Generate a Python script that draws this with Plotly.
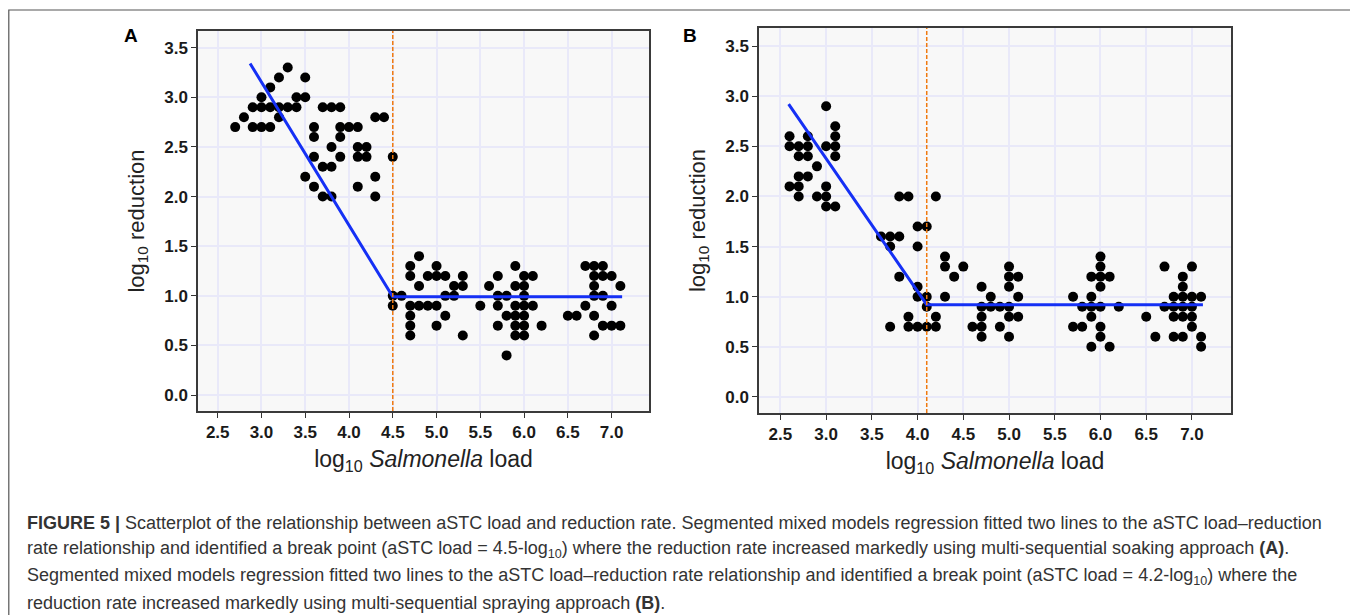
import plotly.graph_objects as go

# Panel A - multi-sequential soaking
a_load = [2.7, 2.8, 2.9, 2.9, 3.0, 3.0, 3.0, 3.1, 3.1, 3.1, 3.2, 3.2, 3.2,
          3.3, 3.3, 3.4, 3.4, 3.5, 3.5, 3.5, 3.6, 3.6, 3.6, 3.6, 3.7, 3.7, 3.7,
          3.8, 3.8, 3.8, 3.8, 3.9, 3.9, 3.9, 3.9, 4.0, 4.1, 4.1, 4.1, 4.1,
          4.2, 4.2, 4.3, 4.3, 4.3, 4.4, 4.5, 4.5, 4.5, 4.6,
          4.7, 4.7, 4.7, 4.7, 4.7, 4.7, 4.8, 4.8, 4.8, 4.9, 4.9,
          5.0, 5.0, 5.0, 5.0, 5.1, 5.1, 5.1, 5.2, 5.2, 5.3, 5.3, 5.3,
          5.5, 5.6, 5.7, 5.7, 5.7, 5.7, 5.8, 5.8, 5.8,
          5.9, 5.9, 5.9, 5.9, 5.9, 5.9, 6.0, 6.0, 6.0, 6.0, 6.0, 6.0, 6.0,
          6.1, 6.1, 6.2, 6.5, 6.6, 6.7, 6.7, 6.8, 6.8, 6.8, 6.8, 6.8, 6.8,
          6.9, 6.9, 6.9, 6.9, 7.0, 7.0, 7.0, 7.1, 7.1]
a_red = [2.7, 2.8, 2.9, 2.7, 3.0, 2.9, 2.7, 3.1, 2.9, 2.7, 3.2, 2.9, 2.8,
         3.3, 2.9, 3.0, 2.9, 3.2, 3.0, 2.2, 2.7, 2.6, 2.4, 2.1, 2.9, 2.3, 2.0,
         2.9, 2.5, 2.3, 2.0, 2.9, 2.7, 2.6, 2.4, 2.7, 2.7, 2.5, 2.4, 2.1,
         2.5, 2.4, 2.8, 2.2, 2.0, 2.8, 2.4, 1.0, 0.9, 1.0,
         1.3, 1.2, 0.9, 0.8, 0.7, 0.6, 1.4, 1.1, 0.9, 1.2, 0.9,
         1.3, 1.2, 0.9, 0.7, 1.2, 1.0, 0.8, 1.1, 1.0, 1.2, 1.1, 0.6,
         0.9, 1.1, 1.2, 1.0, 0.9, 0.7, 1.0, 0.8, 0.4,
         1.3, 1.1, 0.9, 0.8, 0.7, 0.6, 1.2, 1.1, 1.0, 0.9, 0.8, 0.7, 0.6,
         1.2, 0.9, 0.7, 0.8, 0.8, 1.3, 0.9, 1.3, 1.2, 1.1, 1.0, 0.8, 0.6,
         1.3, 1.2, 1.0, 0.7, 1.2, 0.9, 0.7, 1.1, 0.7]
a_fit_x = [2.87, 4.5, 7.12]
a_fit_y = [3.34, 0.99, 0.99]
a_break = 4.5

# Panel B - multi-sequential spraying
b_load = [2.6, 2.6, 2.6, 2.7, 2.7, 2.7, 2.7, 2.7, 2.8, 2.8, 2.8, 2.8,
          2.9, 2.9, 3.0, 3.0, 3.0, 3.0, 3.0, 3.1, 3.1, 3.1, 3.1, 3.1,
          3.6, 3.7, 3.7, 3.7, 3.8, 3.8, 3.8, 3.9, 3.9, 3.9,
          4.0, 4.0, 4.0, 4.0, 4.0, 4.1, 4.1, 4.1, 4.1, 4.2, 4.2, 4.2,
          4.3, 4.3, 4.3, 4.4, 4.5, 4.6, 4.7, 4.7, 4.7, 4.7, 4.7,
          4.8, 4.8, 4.9, 4.9, 5.0, 5.0, 5.0, 5.0, 5.0, 5.0, 5.1, 5.1, 5.1,
          5.7, 5.7, 5.8, 5.8, 5.9, 5.9, 5.9, 5.9, 5.9,
          6.0, 6.0, 6.0, 6.0, 6.0, 6.0, 6.0, 6.1, 6.1, 6.2, 6.5, 6.6,
          6.7, 6.7, 6.8, 6.8, 6.8, 6.8, 6.9, 6.9, 6.9, 6.9, 6.9, 6.9,
          7.0, 7.0, 7.0, 7.0, 7.0, 7.1, 7.1, 7.1]
b_red = [2.6, 2.5, 2.1, 2.5, 2.4, 2.2, 2.1, 2.0, 2.6, 2.5, 2.4, 2.2,
         2.3, 2.0, 2.9, 2.5, 2.1, 2.0, 1.9, 2.7, 2.6, 2.5, 2.4, 1.9,
         1.6, 1.6, 1.5, 0.7, 2.0, 1.6, 1.2, 2.0, 0.8, 0.7,
         1.7, 1.5, 1.1, 1.0, 0.7, 1.7, 1.0, 0.9, 0.7, 2.0, 0.8, 0.7,
         1.4, 1.3, 1.0, 1.2, 1.3, 0.7, 1.1, 0.9, 0.8, 0.7, 0.6,
         1.0, 0.9, 0.9, 0.7, 1.3, 1.2, 1.1, 0.9, 0.8, 0.6, 1.2, 1.0, 0.8,
         1.0, 0.7, 0.9, 0.7, 1.2, 1.0, 0.9, 0.8, 0.5,
         1.4, 1.3, 1.2, 1.1, 0.9, 0.7, 0.6, 1.2, 0.5, 0.9, 0.8, 0.6,
         1.3, 0.9, 1.0, 0.9, 0.8, 0.6, 1.2, 1.1, 1.0, 0.9, 0.8, 0.6,
         1.3, 1.0, 0.9, 0.8, 0.7, 1.0, 0.6, 0.5]
b_fit_x = [2.59, 4.1, 7.12]
b_fit_y = [2.92, 0.92, 0.92]
b_break = 4.1

x_ticks = [2.5, 3.0, 3.5, 4.0, 4.5, 5.0, 5.5, 6.0, 6.5, 7.0]
y_ticks = [0.0, 0.5, 1.0, 1.5, 2.0, 2.5, 3.0, 3.5]

caption = [
    "<b>FIGURE 5 |</b> Scatterplot of the relationship between aSTC load and reduction rate. "
    "Segmented mixed models regression fitted two lines to the aSTC load–reduction",
    "rate relationship and identified a break point (aSTC load = 4.5-log<sub>10</sub>) "
    "where the reduction rate increased markedly using multi-sequential soaking approach <b>(A)</b>.",
    "Segmented mixed models regression fitted two lines to the aSTC load–reduction rate relationship "
    "and identified a break point (aSTC load = 4.2-log<sub>10</sub>) where the",
    "reduction rate increased markedly using multi-sequential spraying approach <b>(B)</b>.",
]

# the page body has an 8px margin, so the figure starts at (8, 8)
OFF = 8
W, H = 1358 - OFF, 615 - OFF
FONT = "Liberation Sans, Arial, sans-serif"


def fx(px):
    return (px - OFF) / W


def fy(py):
    return 1 - (py - OFF) / H


fig = go.Figure()

panels = [
    ("x", "y", a_load, a_red, a_fit_x, a_fit_y, a_break),
    ("x2", "y2", b_load, b_red, b_fit_x, b_fit_y, b_break),
]
for xa, ya, px_, py_, lx, ly, brk in panels:
    fig.add_trace(go.Scatter(x=px_, y=py_, mode="markers", xaxis=xa, yaxis=ya,
                             marker=dict(color="black", size=10), showlegend=False))
    fig.add_trace(go.Scatter(x=lx, y=ly, mode="lines", xaxis=xa, yaxis=ya,
                             line=dict(color="#1530F5", width=3), showlegend=False))
    fig.add_shape(type="line", xref=xa, yref=ya + " domain", x0=brk, x1=brk, y0=0, y1=1,
                  line=dict(color="#F07A10", width=1.5, dash="4px,2px"))

axis_common = dict(
    showline=True, mirror=True, linecolor="#3a3a3a", linewidth=1.5,
    ticks="outside", ticklen=5, tickcolor="#333", tickwidth=1,
    showgrid=True, gridcolor="#E9E9F9", gridwidth=1.5, zeroline=False,
    tickfont=dict(family=FONT, size=17, color="#1a1a1a", weight="bold"),
    tickformat=".1f",
)
xtitle = dict(text="log<sub>10</sub> <i>Salmonella</i> load",
              font=dict(family=FONT, size=23, color="#222"), standoff=10)
ytitle = dict(text="log<sub>10</sub> reduction",
              font=dict(family=FONT, size=22, color="#222"), standoff=14)

fig.update_layout(
    width=W, height=H,
    margin=dict(l=0, r=0, t=0, b=0),
    paper_bgcolor="white", plot_bgcolor="#F8F8F8",
    xaxis=dict(domain=[fx(198), fx(649)], range=[2.275, 7.427], tickvals=x_ticks,
               title=xtitle, anchor="y", **axis_common),
    yaxis=dict(domain=[fy(411), fy(31)], range=[-0.16, 3.668], tickvals=y_ticks,
               title=ytitle, anchor="x", **axis_common),
    xaxis2=dict(domain=[fx(759), fx(1231)], range=[2.266, 7.427], tickvals=x_ticks,
                title=xtitle, anchor="y2", **axis_common),
    yaxis2=dict(domain=[fy(413), fy(28)], range=[-0.16, 3.68], tickvals=y_ticks,
                title=ytitle, anchor="x2", **axis_common),
)

# panel letters
for letter, xp in [("A", 131), ("B", 690)]:
    fig.add_annotation(text="<b>" + letter + "</b>", xref="paper", yref="paper",
                       x=fx(xp), y=fy(35), xanchor="center", yanchor="middle", showarrow=False,
                       font=dict(family=FONT, size=19, color="black"))

# caption lines
for i, line in enumerate(caption):
    fig.add_annotation(text=line, xref="paper", yref="paper",
                       x=fx(25), y=fy(523 + 26.7 * i), xanchor="left", yanchor="middle",
                       showarrow=False, font=dict(family=FONT, size=18, color="#333"))

# outer frame
fig.add_shape(type="rect", xref="paper", yref="paper",
              x0=0.8 / W, x1=fx(1353), y0=-0.05, y1=fy(10),
              line=dict(color="#555", width=1.2), fillcolor="rgba(0,0,0,0)")

fig.write_html("out.html")
